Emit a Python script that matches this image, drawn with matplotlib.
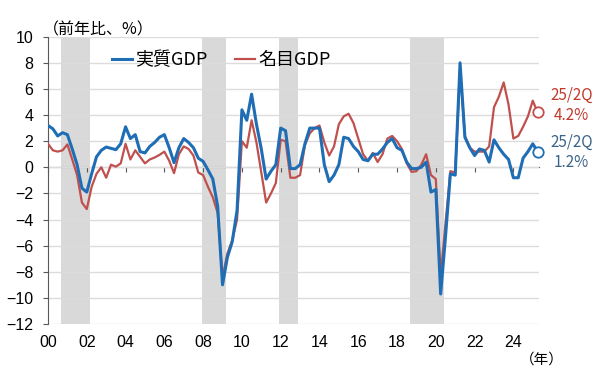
import numpy as np
import matplotlib
matplotlib.use('Agg')
import matplotlib.pyplot as plt

plt.rcParams['font.family'] = ['Liberation Sans', 'Noto Sans CJK JP']
jp = ['Noto Sans CJK JP', 'DejaVu Sans']

# quarterly YoY growth (%), 2000Q1 .. 2025Q2
start_year = 2000
real_gdp = [3.2, 2.95, 2.4, 2.65, 2.5, 1.4, 0.2, -1.6, -1.9, -0.5,
            0.8, 1.3, 1.55, 1.45, 1.35, 1.8, 3.1, 2.2, 2.5, 1.2,
            1.1, 1.6, 1.9, 2.3, 2.5, 1.5, 0.35, 1.5, 2.2, 1.9,
            1.5, 0.7, 0.45, -0.2, -0.9, -3.0, -9.0, -6.9, -5.7, -3.3,
            4.4, 3.6, 5.6, 3.3, 1.4, -0.9, -0.3, 0.2, 3.0, 2.8,
            -0.1, -0.1, 0.2, 1.8, 3.0, 3.0, 3.0, 0.2, -1.1, -0.6,
            0.2, 2.3, 2.2, 1.6, 1.2, 0.6, 0.5, 1.0, 1.0, 1.4,
            1.9, 2.2, 1.5, 1.3, 0.4, -0.1, -0.1, 0.0, 0.4, -1.9,
            -1.7, -9.7, -5.3, -0.5, -0.6, 8.0, 2.3, 1.5, 0.9, 1.4,
            1.3, 0.4, 2.1, 1.5, 1.0, 0.6, -0.8, -0.8, 0.7, 1.2,
            1.8, 1.2]
nominal_gdp = [1.8, 1.3, 1.2, 1.3, 1.75, 0.6, -0.6, -2.7, -3.2, -1.5,
               -0.5, 0.0, -0.8, 0.2, 0.05, 0.3, 1.8, 0.6, 1.3, 0.8,
               0.3, 0.6, 0.75, 0.95, 1.2, 0.5, -0.45, 1.0, 1.6, 1.4,
               0.9, -0.4, -0.6, -1.5, -2.3, -3.5, -8.4, -6.6, -5.6, -4.0,
               2.0, 1.5, 3.6, 1.9, -0.4, -2.7, -2.0, -1.2, 2.1, 2.0,
               -0.8, -0.8, -0.6, 1.7, 2.6, 3.0, 3.2, 1.9, 0.9, 1.6,
               3.3, 3.9, 4.1, 3.4, 2.2, 1.0, 0.5, 1.1, 0.4, 1.0,
               2.2, 2.4, 2.0, 1.4, 0.3, -0.35, -0.3, 0.2, 1.0, -0.6,
               -0.9, -8.3, -4.3, -0.3, -0.4, 7.5, 2.4, 1.5, 1.2, 1.2,
               1.2, 1.6, 4.6, 5.4, 6.5, 4.8, 2.2, 2.4, 3.1, 3.9,
               5.1, 4.2]
recessions = [(2000.67, 2002.17), (2007.93, 2009.18),
              (2011.93, 2012.91), (2018.69, 2020.42)]
x_ticks = list(range(2000, 2025, 2))
x_labels = ['%02d' % (y % 100) for y in x_ticks]
y_ticks = list(range(-12, 11, 2))

blue = '#1f6eb5'
red = '#c0504d'
axis_col = '#595959'

quarters = start_year + np.arange(len(real_gdp)) / 4

fig = plt.figure(figsize=(6, 3.76), dpi=100)
ax = fig.add_axes([0.08, 0.1383, 0.8183, 0.7641])

for a, b in recessions:
    ax.axvspan(a, b, color='#d9d9d9', lw=0, zorder=0)

ax.plot(quarters, nominal_gdp, color=red, lw=1.6, label='名目GDP', zorder=3)
ax.plot(quarters, real_gdp, color=blue, lw=2.2, label='実質GDP', zorder=4)
ax.plot(quarters[-1], nominal_gdp[-1], 'o', mfc='white', mec=red, ms=7.5, mew=1.3,
        zorder=5, clip_on=False)
ax.plot(quarters[-1], real_gdp[-1], 'o', mfc='white', mec=blue, ms=7.5, mew=1.3,
        zorder=5, clip_on=False)

ax.set_xlim(2000, 2025.32)
ax.set_ylim(-12, 10)
ax.set_yticks(y_ticks)
ax.yaxis.grid(True, color='#dcdcdc', lw=1)
ax.set_axisbelow(True)
ax.set_xticks(x_ticks)
ax.set_xticklabels(x_labels)
ax.tick_params(axis='x', length=0, pad=8, labelsize=11.5)
ax.tick_params(axis='y', length=3.5, pad=7, color=axis_col, labelsize=11.5)
for s in ['top', 'right', 'bottom']:
    ax.spines[s].set_visible(False)
ax.spines['left'].set_color(axis_col)

# zero line with the year ticks
zero_ax = ax.secondary_xaxis(12 / 22)
zero_ax.set_alignment('bottom')
zero_ax.set_xticks(x_ticks)
zero_ax.tick_params(axis='x', direction='out', length=3.5, color=axis_col,
                    labelbottom=False, labeltop=False)
zero_ax.spines['bottom'].set_color(axis_col)

h, l = ax.get_legend_handles_labels()
ax.legend(h[::-1], l[::-1], loc='center left', bbox_to_anchor=(0.13, 0.919), ncol=2,
          frameon=False, prop={'family': jp, 'size': 13}, handlelength=1.1,
          handletextpad=0.2, columnspacing=1.5, borderpad=0, borderaxespad=0)

ax.text(2027.0, 5.5, '25/2Q', color='#c0392b', ha='center', va='center', fontsize=11, family=jp)
ax.text(2027.0, 3.95, '4.2%', color='#c0392b', ha='center', va='center', fontsize=11, family=jp)
ax.text(2027.0, 1.95, '25/2Q', color='#3c6489', ha='center', va='center', fontsize=11, family=jp)
ax.text(2027.0, 0.4, '1.2%', color='#3c6489', ha='center', va='center', fontsize=11, family=jp)

fig.text(43 / 600, 1 - 30 / 376, '（前年比、%）', ha='left', va='center', fontsize=11.5, family=jp)
fig.text(542 / 600, 1 - 360 / 376, '（年）', ha='center', va='center', fontsize=10.5, family=jp)

fig.savefig('out.png', dpi=100)
